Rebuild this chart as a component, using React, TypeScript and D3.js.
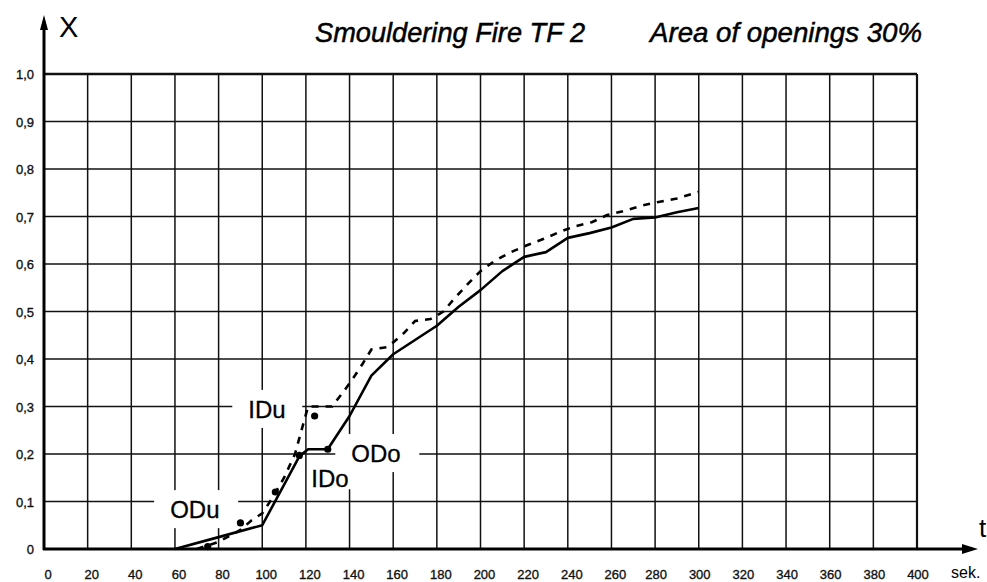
import React from 'react';
import * as d3 from 'd3';

// time axis (sek.) and X axis ticks
const timeTicks = [0, 20, 40, 60, 80, 100, 120, 140, 160, 180, 200, 220, 240, 260, 280, 300, 320, 340, 360, 380, 400];
const xValueTicks = [0, 0.1, 0.2, 0.3, 0.4, 0.5, 0.6, 0.7, 0.8, 0.9, 1.0];
const xValueLabels = ['0', '0,1', '0,2', '0,3', '0,4', '0,5', '0,6', '0,7', '0,8', '0,9', '1,0'];

// solid curve
const solidTime = [60, 80, 100, 117, 121, 130, 140, 150, 160, 170, 180, 190, 200, 210, 220, 230, 240, 250, 260, 270, 280, 290, 300];
const solidX = [0, 0.025, 0.05, 0.195, 0.21, 0.21, 0.28, 0.365, 0.41, 0.44, 0.47, 0.51, 0.545, 0.585, 0.615, 0.625, 0.655, 0.665, 0.677, 0.695, 0.698, 0.709, 0.718];

// dashed curve
const dashedTime = [70, 80, 90, 95, 100, 105, 110, 115, 118, 121, 132, 137, 141, 146, 150, 157, 160, 165, 170, 177, 183, 188, 194, 200, 206, 213, 221, 229, 236, 243, 251, 258, 266, 274, 281, 290, 300];
const dashedX = [0, 0.015, 0.04, 0.06, 0.075, 0.11, 0.15, 0.2, 0.25, 0.3, 0.3, 0.33, 0.355, 0.39, 0.42, 0.425, 0.435, 0.455, 0.48, 0.484, 0.5, 0.527, 0.557, 0.585, 0.605, 0.623, 0.639, 0.653, 0.667, 0.679, 0.688, 0.703, 0.712, 0.723, 0.73, 0.738, 0.752];

// measured points
const dotTime = [75, 90, 106, 117, 124, 130];
const dotX = [0.005, 0.055, 0.12, 0.197, 0.28, 0.21];

// curve names written in the plot
const curveNames = ['IDu', 'ODo', 'IDo', 'ODu'];
const nameTime = [93.6, 140.8, 122.5, 57.8];
const nameX = [0.276, 0.183, 0.13, 0.065];

const WIDTH = 987;
const HEIGHT = 582;
const LEFT = 44;
const RIGHT = 917;
const TOP = 74;
const BOTTOM = 549;

const App = () => {
    const x = d3.scaleLinear().domain([0, 400]).range([LEFT, RIGHT]);
    const y = d3.scaleLinear().domain([0, 1]).range([BOTTOM, TOP]);

    const line = d3.line<[number, number]>().x(d => x(d[0])).y(d => y(d[1]));
    const solidPath = line(solidTime.map((t, i) => [t, solidX[i]]));
    const dashedPath = line(dashedTime.map((t, i) => [t, dashedX[i]]));

    const labelFont = '"Liberation Sans", Arial, sans-serif';
    const titleFont = '"Liberation Sans Narrow", "Liberation Sans", Arial, sans-serif';

    return (
        <svg width={WIDTH} height={HEIGHT} style={{ position: 'absolute', left: 0, top: 0, background: '#fff' }}>
            <rect x={0} y={0} width={WIDTH} height={HEIGHT} fill="#fff" />

            {/* grid */}
            <g stroke="#111" strokeWidth={1.5}>
                {timeTicks.slice(1).map(t => (
                    <line key={'v' + t} x1={x(t)} x2={x(t)} y1={y(1)} y2={y(0)} strokeWidth={t === 400 ? 2.2 : 1.5} />
                ))}
                {xValueTicks.slice(1).map(v => (
                    <line key={'h' + v} x1={x(0)} x2={x(400)} y1={y(v)} y2={y(v)} strokeWidth={v === 1 ? 2.6 : 1.5} />
                ))}
            </g>

            {/* white patches behind the curve names */}
            {curveNames.map((name, i) => {
                const w = name === 'IDu' ? 38 : name === 'IDo' ? 37 : 52;
                const padX = name === 'IDo' ? 3 : 16;
                const padY = name === 'IDo' ? 2 : 10;
                return (
                    <rect key={'bg' + name}
                        x={x(nameTime[i]) - padX} y={y(nameX[i]) - 18 - padY}
                        width={w + padX * 2} height={18 + padY * 2}
                        fill="#fff" />
                );
            })}

            {/* axes */}
            <line x1={LEFT} x2={LEFT} y1={BOTTOM + 1} y2={22} stroke="#000" strokeWidth={3} />
            <path d={`M${LEFT},15 L${LEFT - 4},30 L${LEFT + 4},30 Z`} fill="#000" />
            <line x1={LEFT - 1} x2={968} y1={BOTTOM} y2={BOTTOM} stroke="#000" strokeWidth={3} />
            <path d={`M978,${BOTTOM} L962,${BOTTOM - 5} L962,${BOTTOM + 5} Z`} fill="#000" />

            {/* curves */}
            <path d={dashedPath} fill="none" stroke="#000" strokeWidth={2.6} strokeDasharray="7,7" />
            <path d={solidPath} fill="none" stroke="#000" strokeWidth={2.6} strokeLinejoin="round" />
            {dotTime.map((t, i) => (
                <circle key={'d' + i} cx={x(t)} cy={y(dotX[i])} r={3.6} fill="#000" />
            ))}

            {/* curve names */}
            {curveNames.map((name, i) => (
                <text key={name} x={x(nameTime[i])} y={y(nameX[i])} fontFamily={labelFont} fontSize={24} fill="#000"
                    stroke="#000" strokeWidth={0.3}>{name}</text>
            ))}

            {/* tick labels */}
            {xValueTicks.map((v, i) => (
                <text key={'yl' + v} x={34} y={y(v) + 5} textAnchor="end" fontFamily={labelFont} fontSize={13} fill="#111"
                    stroke="#111" strokeWidth={0.35}>
                    {xValueLabels[i]}
                </text>
            ))}
            {timeTicks.map(t => (
                <text key={'xl' + t} x={x(t) + (t < 280 ? 4 : 1)} y={579} textAnchor="middle" fontFamily={labelFont} fontSize={13} fill="#111"
                    stroke="#111" strokeWidth={0.35}>
                    {t}
                </text>
            ))}

            {/* axis names and title */}
            <text x={59} y={37} fontFamily={labelFont} fontSize={29} fill="#000">X</text>
            <text x={979} y={537} fontFamily={labelFont} fontSize={26} fill="#000">t</text>
            <text x={951} y={578} fontFamily={labelFont} fontSize={16} fill="#000">sek.</text>
            <text x={315} y={42} fontFamily={titleFont} fontStyle="italic" fontSize={28} textLength={270} lengthAdjust="spacingAndGlyphs"
                fill="#000" stroke="#000" strokeWidth={0.5}>
                Smouldering Fire TF 2
            </text>
            <text x={650} y={42} fontFamily={titleFont} fontStyle="italic" fontSize={28} textLength={272} lengthAdjust="spacingAndGlyphs"
                fill="#000" stroke="#000" strokeWidth={0.5}>
                Area of openings 30%
            </text>
        </svg>
    );
};

export default App;
